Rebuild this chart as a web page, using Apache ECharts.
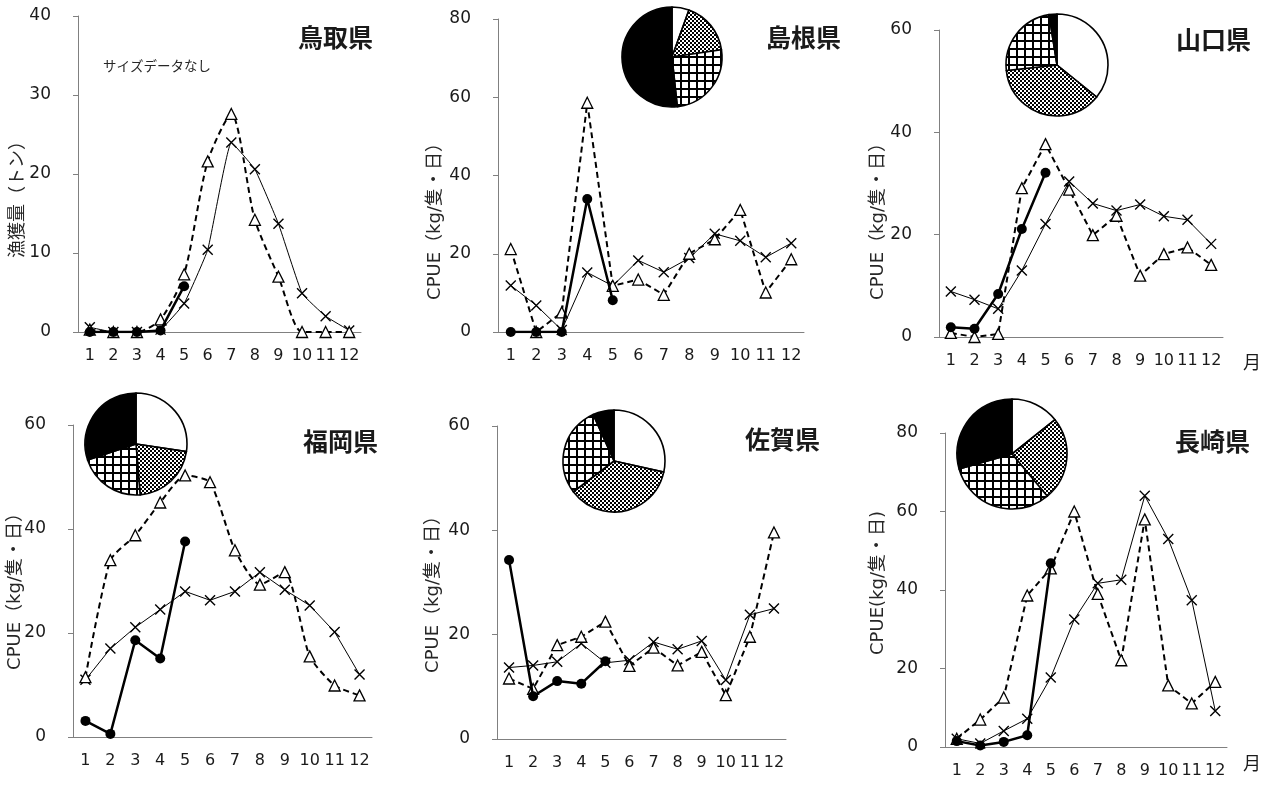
<!DOCTYPE html>
<html><head><meta charset="utf-8">
<script src="https://cdn.jsdelivr.net/npm/echarts@6/dist/echarts.min.js"></script>
<style>html,body{margin:0;padding:0;background:#fff}#c{width:1269px;height:785px}</style>
</head><body><div id="c"></div>
<script>
const months = ['1','2','3','4','5','6','7','8','9','10','11','12'];
const prefectures = ['鳥取県','島根県','山口県','福岡県','佐賀県','長崎県'];

// 鳥取県
const tottoriTri    = [0.3, 0, 0, 1.6, 7.3, 21.6, 27.6, 14.2, 7.0, 0, 0, 0];
const tottoriCross  = [0.6, 0, 0, 0.3, 3.6, 10.4, 24.0, 20.6, 13.7, 4.9, 2.0, 0.2];
const tottoriCircle = [0, 0, 0, 0.2, 5.8, null, null, null, null, null, null, null];
// 島根県
const shimaneTri    = [21.2, 0, 5.0, 58.6, 11.8, 13.4, 9.5, 20.0, 23.7, 31.2, 10.1, 18.6];
const shimaneCross  = [11.9, 6.8, 0.5, 15.2, 11.8, 18.3, 15.3, 18.9, 25.1, 23.3, 19.1, 22.7];
const shimaneCircle = [0, 0, 0, 34.0, 8.1, null, null, null, null, null, null, null];
const shimanePie    = [5.5, 17.2, 25.6, 51.7];
// 山口県
const yamaguchiTri    = [0.8, 0, 0.6, 29.1, 37.7, 28.8, 19.9, 23.7, 12.0, 16.2, 17.5, 14.1];
const yamaguchiCross  = [8.9, 7.3, 5.5, 13.0, 22.1, 30.4, 26.1, 24.7, 25.9, 23.6, 22.9, 18.2];
const yamaguchiCircle = [1.9, 1.6, 8.4, 21.1, 32.1, null, null, null, null, null, null, null];
const yamaguchiPie    = [35.8, 37.5, 24.2, 2.5];
// 福岡県
const fukuokaTri    = [11.5, 34.0, 38.8, 45.1, 50.3, 49.0, 35.9, 29.3, 31.7, 15.5, 9.9, 8.0];
const fukuokaCross  = [11.0, 17.0, 21.1, 24.5, 28.0, 26.3, 28.0, 31.7, 28.3, 25.3, 20.2, 12.0];
const fukuokaCircle = [3.1, 0.6, 18.6, 15.1, 37.6, null, null, null, null, null, null, null];
const fukuokaPie    = [27.4, 21.3, 21.2, 30.1];
// 佐賀県
const sagaTri    = [11.6, 9.6, 18.0, 19.6, 22.5, 14.0, 17.5, 14.1, 16.7, 8.4, 19.6, 39.6];
const sagaCross  = [13.7, 14.1, 14.8, 18.3, 14.6, 15.1, 18.6, 17.2, 18.8, 11.3, 23.8, 25.0];
const sagaCircle = [34.3, 8.2, 11.1, 10.6, 14.9, null, null, null, null, null, null, null];
const sagaPie    = [28.5, 36.2, 28.6, 6.7];
// 長崎県
const nagasakiTri    = [2.1, 7.0, 12.6, 38.6, 45.5, 60.0, 39.0, 22.1, 58.0, 15.7, 11.1, 16.6];
const nagasakiCross  = [2.1, 0.9, 4.1, 7.2, 17.7, 32.5, 41.7, 42.6, 64.0, 53.0, 37.4, 9.2];
const nagasakiCircle = [1.5, 0.4, 1.3, 3.0, 46.8, null, null, null, null, null, null, null];
const nagasakiPie    = [14.3, 24.6, 31.7, 29.4];

const yTicksMax = [40, 80, 60, 60, 60, 80];
const yTicksInterval = [10, 20, 20, 20, 20, 20];
const yNames = ['漁獲量（トン）','CPUE（kg/隻・日）','CPUE（kg/隻・日）','CPUE（kg/隻・日）','CPUE（kg/隻・日）','CPUE(kg/隻・日)'];

// layout (pixels)
const layout = [
  {grid:{left:78, top:16, width:283, height:316}, title:[298,25], yName:[18,195], smoothTri:0.25, smoothCross:0.1},
  {grid:{left:498, top:19, width:306, height:313}, title:[766,25], yName:[435,217], pie:{c:[672,57], r:50}},
  {grid:{left:939, top:30, width:284, height:307}, title:[1176,27], yName:[878,217], pie:{c:[1057,65], r:51}},
  {grid:{left:73, top:425, width:299, height:312}, title:[303,429], yName:[15,587], pie:{c:[136,444], r:51}, smoothTri:0.2},
  {grid:{left:497, top:426, width:289, height:313}, title:[745,427], yName:[433,590], pie:{c:[614,461], r:51}},
  {grid:{left:945, top:433, width:282, height:314}, title:[1175,429], yName:[878,583], pie:{c:[1012,454], r:55}}
];
const panelData = [
  [tottoriTri, tottoriCross, tottoriCircle, null],
  [shimaneTri, shimaneCross, shimaneCircle, shimanePie],
  [yamaguchiTri, yamaguchiCross, yamaguchiCircle, yamaguchiPie],
  [fukuokaTri, fukuokaCross, fukuokaCircle, fukuokaPie],
  [sagaTri, sagaCross, sagaCircle, sagaPie],
  [nagasakiTri, nagasakiCross, nagasakiCircle, nagasakiPie]
];

function makeChecker(){
  const c = document.createElement('canvas'); c.width = 4; c.height = 4;
  const g = c.getContext('2d');
  g.fillStyle = '#fff'; g.fillRect(0,0,4,4);
  g.fillStyle = '#000'; g.fillRect(0,0,2,2); g.fillRect(2,2,2,2);
  return c;
}
function makeGrid(){
  const c = document.createElement('canvas'); c.width = 8; c.height = 8;
  const g = c.getContext('2d');
  g.fillStyle = '#fff'; g.fillRect(0,0,8,8);
  g.fillStyle = '#000'; g.fillRect(0,0,8,2); g.fillRect(0,0,2,8);
  return c;
}
const checker = {image: makeChecker(), repeat: 'repeat'};
const gridPat = {image: makeGrid(), repeat: 'repeat'};
const pieFills = ['#ffffff', checker, gridPat, '#000000'];

const FONT = "'DejaVu Sans', 'Noto Sans CJK JP', sans-serif";
const crossPath = 'path://M0,0L10,10M10,0L0,10';

const grids = [], xAxes = [], yAxes = [], series = [], titles = [], graphics = [];
layout.forEach((L, i) => {
  grids.push(L.grid);
  xAxes.push({
    type:'category', gridIndex:i, data:months, boundaryGap:true,
    axisLine:{lineStyle:{color:'#808080', width:1}},
    axisTick:{inside:true, length:4, lineStyle:{color:'#808080'}},
    axisLabel:{fontSize:16, color:'#1a1a1a', margin:16, fontFamily:FONT, interval:0}
  });
  yAxes.push({
    type:'value', gridIndex:i, min:0, max:yTicksMax[i], interval:yTicksInterval[i],
    axisLine:{show:true, lineStyle:{color:'#808080', width:1}},
    axisTick:{show:true, length:5, lineStyle:{color:'#808080'}},
    splitLine:{show:false},
    axisLabel:{fontSize:17, color:'#1a1a1a', margin:27, fontFamily:FONT}
  });
  const [tri, cross, circ, pie] = panelData[i];
  series.push({
    type:'line', xAxisIndex:i, yAxisIndex:i, data:tri, smooth:L.smoothTri||false,
    symbol:'triangle', symbolSize:11, z:3,
    lineStyle:{color:'#000', width:2, type:[6,4]},
    itemStyle:{color:'#fff', borderColor:'#000', borderWidth:1.3}
  });
  series.push({
    type:'line', xAxisIndex:i, yAxisIndex:i, data:cross, smooth:L.smoothCross||false,
    symbol:crossPath, symbolSize:10, z:2,
    lineStyle:{color:'#000', width:1},
    itemStyle:{color:'#000', borderColor:'#000', borderWidth:1.4}
  });
  series.push({
    type:'line', xAxisIndex:i, yAxisIndex:i, data:circ,
    symbol:'circle', symbolSize:10, z:4,
    lineStyle:{color:'#000', width:2.5},
    itemStyle:{color:'#000', borderColor:'#000', borderWidth:0}
  });
  if (pie && L.pie) {
    series.push({
      type:'pie', center:L.pie.c, radius:L.pie.r, startAngle:90, clockwise:true,
      silent:true, label:{show:false}, labelLine:{show:false}, z:6,
      itemStyle:{borderColor:'#000', borderWidth:1.6},
      data: pie.map((v, k) => ({value:v, itemStyle:{color:pieFills[k]}}))
    });
  }
  titles.push({text:prefectures[i], left:L.title[0], top:L.title[1], padding:0,
    textStyle:{fontSize:25, fontWeight:'bold', color:'#1a1a1a', fontFamily:"'Noto Sans CJK JP', sans-serif"}});
  graphics.push({type:'text', x:L.yName[0], y:L.yName[1], rotation:Math.PI/2,
    style:{text:yNames[i], fontSize:18, fill:'#262626', fontFamily:FONT, align:'center', verticalAlign:'middle'}});
});
graphics.push({type:'text', x:103, y:66, style:{text:'サイズデータなし', fontSize:13.5, fill:'#262626', fontFamily:"'Noto Sans CJK JP', sans-serif", verticalAlign:'middle'}});
graphics.push({type:'text', x:1252, y:362, style:{text:'月', fontSize:18, fill:'#1a1a1a', fontFamily:"'Noto Sans CJK JP', sans-serif", align:'center', verticalAlign:'middle'}});
graphics.push({type:'text', x:1252, y:763, style:{text:'月', fontSize:18, fill:'#1a1a1a', fontFamily:"'Noto Sans CJK JP', sans-serif", align:'center', verticalAlign:'middle'}});

const chart = echarts.init(document.getElementById('c'), null, {renderer:'canvas'});
chart.setOption({
  animation:false, backgroundColor:'#fff',
  title:titles, grid:grids, xAxis:xAxes, yAxis:yAxes, series:series, graphic:graphics
});
</script></body></html>
